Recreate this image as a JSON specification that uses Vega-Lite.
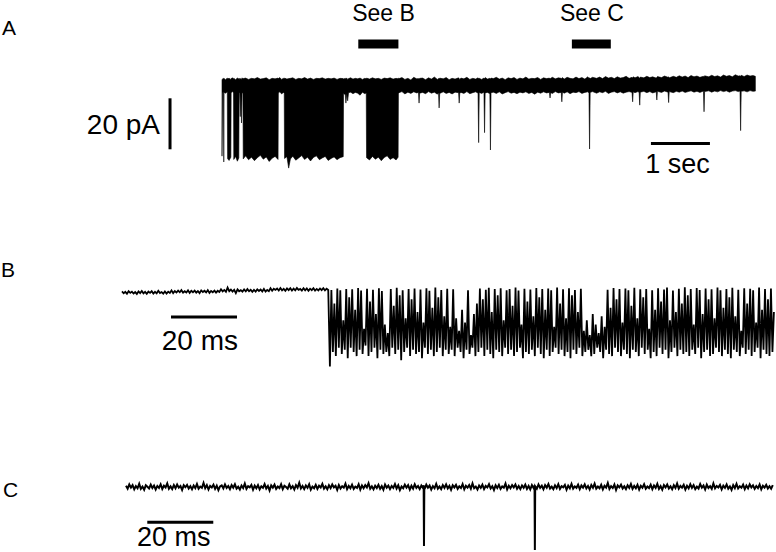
{
"$schema":"https://vega.github.io/schema/vega-lite/v6.json",
"padding":0,
"spacing":0,
"background":"white",
"config":{"view":{"stroke":null},"concat":{"spacing":0},"text":{"font":"Liberation Sans","color":"black"}},
"datasets":{
"traceA":[
{"t":0,"lo":-27.5,"hi":2.4},{"t":0.01,"lo":-2.6,"hi":2.8},{"t":0.025,"lo":-2.4,"hi":3.0},{"t":0.03,"lo":-29.8,"hi":2.7},{"t":0.035,"lo":-2.5,"hi":2.9},{"t":0.06,"lo":-2.8,"hi":2.5},{"t":0.09,"lo":-2.3,"hi":3.1},{"t":0.095,"lo":-28.5,"hi":2.8},{"t":0.12,"lo":-29.2,"hi":3.0},{"t":0.15,"lo":-27.9,"hi":2.6},{"t":0.155,"lo":-2.6,"hi":2.9},{"t":0.18,"lo":-2.2,"hi":3.2},{"t":0.195,"lo":-2.7,"hi":2.7},{"t":0.2,"lo":-28.8,"hi":3.0},{"t":0.23,"lo":-27.6,"hi":2.5},{"t":0.26,"lo":-29.5,"hi":3.1},{"t":0.285,"lo":-28.2,"hi":2.8},{"t":0.29,"lo":-2.9,"hi":2.6},{"t":0.3,"lo":-2.4,"hi":3.0},{"t":0.31,"lo":-12.0,"hi":2.7},{"t":0.32,"lo":-3.0,"hi":2.9},{"t":0.33,"lo":-14.5,"hi":2.6},{"t":0.34,"lo":-2.6,"hi":3.2},{"t":0.355,"lo":-2.8,"hi":2.7},
{"t":0.36,"lo":-28.6,"hi":2.9},{"t":0.4,"lo":-27.4,"hi":3.1},{"t":0.45,"lo":-28.9,"hi":2.6},{"t":0.5,"lo":-27.9,"hi":3.0},{"t":0.55,"lo":-29.3,"hi":2.8},{"t":0.6,"lo":-28.1,"hi":3.3},{"t":0.65,"lo":-27.2,"hi":2.7},{"t":0.7,"lo":-28.7,"hi":2.9},{"t":0.75,"lo":-27.8,"hi":3.2},{"t":0.8,"lo":-29.6,"hi":2.5},{"t":0.85,"lo":-28.3,"hi":3.0},{"t":0.9,"lo":-27.6,"hi":2.8},{"t":0.95,"lo":-28.8,"hi":3.1},
{"t":0.955,"lo":-2.7,"hi":2.9},{"t":0.98,"lo":-2.3,"hi":3.3},{"t":1.01,"lo":-3.1,"hi":2.6},{"t":1.04,"lo":-2.5,"hi":3.0},{"t":1.055,"lo":-2.8,"hi":2.8},
{"t":1.06,"lo":-28.4,"hi":3.1},{"t":1.1,"lo":-27.7,"hi":2.7},{"t":1.13,"lo":-32.2,"hi":2.9},{"t":1.16,"lo":-28.6,"hi":3.0},{"t":1.2,"lo":-27.5,"hi":3.2},{"t":1.25,"lo":-29.1,"hi":2.6},{"t":1.3,"lo":-28.2,"hi":3.0},{"t":1.35,"lo":-27.3,"hi":2.8},{"t":1.4,"lo":-28.8,"hi":3.3},{"t":1.45,"lo":-27.9,"hi":2.7},{"t":1.5,"lo":-29.4,"hi":3.1},{"t":1.55,"lo":-28.0,"hi":2.6},{"t":1.6,"lo":-27.4,"hi":3.0},{"t":1.65,"lo":-28.9,"hi":2.9},{"t":1.7,"lo":-28.2,"hi":3.2},{"t":1.75,"lo":-27.6,"hi":2.7},{"t":1.8,"lo":-29.2,"hi":3.0},{"t":1.85,"lo":-28.4,"hi":2.8},{"t":1.9,"lo":-27.8,"hi":3.1},{"t":1.95,"lo":-28.9,"hi":2.6},{"t":2.0,"lo":-28.1,"hi":3.0},{"t":2.055,"lo":-27.7,"hi":2.9},
{"t":2.06,"lo":-2.9,"hi":2.7},{"t":2.09,"lo":-3.4,"hi":3.0},{"t":2.1,"lo":-6.7,"hi":2.8},{"t":2.115,"lo":-3.0,"hi":3.1},{"t":2.13,"lo":-5.8,"hi":2.6},{"t":2.145,"lo":-2.6,"hi":2.9},{"t":2.18,"lo":-2.4,"hi":3.2},{"t":2.22,"lo":-3.0,"hi":2.7},{"t":2.26,"lo":-2.5,"hi":3.0},{"t":2.3,"lo":-2.8,"hi":2.8},{"t":2.34,"lo":-3.6,"hi":3.1},{"t":2.38,"lo":-2.4,"hi":2.6},{"t":2.42,"lo":-3.0,"hi":3.0},{"t":2.445,"lo":-2.7,"hi":2.8},
{"t":2.45,"lo":-28.1,"hi":3.1},{"t":2.5,"lo":-29.0,"hi":2.7},{"t":2.55,"lo":-27.6,"hi":3.2},{"t":2.6,"lo":-28.7,"hi":2.8},{"t":2.65,"lo":-27.9,"hi":3.0},{"t":2.7,"lo":-29.3,"hi":2.6},{"t":2.75,"lo":-28.0,"hi":3.1},{"t":2.8,"lo":-27.4,"hi":2.9},{"t":2.85,"lo":-28.8,"hi":3.2},{"t":2.9,"lo":-28.1,"hi":2.7},{"t":2.95,"lo":-29.0,"hi":3.0},{"t":2.985,"lo":-27.9,"hi":2.8},
{"t":2.99,"lo":-3.0,"hi":3.1},{"t":3.0,"lo":-2.6,"hi":2.9},{"t":3.05,"lo":-2.2,"hi":3.3},{"t":3.1,"lo":-3.1,"hi":2.6},{"t":3.15,"lo":-2.4,"hi":3.0},{"t":3.2,"lo":-2.9,"hi":2.4},{"t":3.25,"lo":-2.3,"hi":3.4},{"t":3.3,"lo":-2.7,"hi":2.8},{"t":3.33,"lo":-2.5,"hi":2.9},{"t":3.34,"lo":-6.7,"hi":2.7},{"t":3.35,"lo":-2.8,"hi":3.0},{"t":3.4,"lo":-2.5,"hi":3.1},{"t":3.45,"lo":-3.0,"hi":2.5},{"t":3.5,"lo":-2.2,"hi":3.2},{"t":3.55,"lo":-2.8,"hi":2.7},{"t":3.6,"lo":-2.4,"hi":3.5},{"t":3.65,"lo":-3.2,"hi":2.6},{"t":3.67,"lo":-2.6,"hi":2.9},{"t":3.68,"lo":-8.6,"hi":2.8},{"t":3.69,"lo":-2.9,"hi":3.1},{"t":3.75,"lo":-2.3,"hi":2.8},{"t":3.8,"lo":-2.9,"hi":3.3},{"t":3.85,"lo":-2.5,"hi":2.5},{"t":3.9,"lo":-3.1,"hi":3.0},{"t":3.95,"lo":-2.4,"hi":2.7},{"t":4.01,"lo":-2.6,"hi":3.2},{"t":4.02,"lo":-6.7,"hi":2.9},{"t":4.03,"lo":-2.8,"hi":2.6},{"t":4.05,"lo":-2.5,"hi":3.1},{"t":4.1,"lo":-2.9,"hi":2.8},{"t":4.15,"lo":-2.2,"hi":3.4},{"t":4.2,"lo":-3.0,"hi":2.6},{"t":4.25,"lo":-2.6,"hi":3.0},{"t":4.3,"lo":-2.3,"hi":2.7},{"t":4.34,"lo":-2.8,"hi":3.2},{"t":4.35,"lo":-22.2,"hi":2.9},{"t":4.36,"lo":-2.5,"hi":3.0},{"t":4.4,"lo":-2.9,"hi":2.6},{"t":4.44,"lo":-2.4,"hi":3.1},{"t":4.45,"lo":-18.3,"hi":2.8},{"t":4.46,"lo":-2.7,"hi":3.3},{"t":4.5,"lo":-2.5,"hi":2.7},{"t":4.54,"lo":-3.0,"hi":3.0},{"t":4.55,"lo":-25.1,"hi":2.8},{"t":4.56,"lo":-2.6,"hi":3.1},{"t":4.6,"lo":-2.4,"hi":2.9},{"t":4.65,"lo":-2.9,"hi":3.4},{"t":4.7,"lo":-2.3,"hi":2.7},{"t":4.75,"lo":-3.1,"hi":3.1},{"t":4.8,"lo":-2.6,"hi":2.5},{"t":4.85,"lo":-2.2,"hi":3.2},{"t":4.9,"lo":-2.8,"hi":2.9},{"t":4.95,"lo":-2.5,"hi":3.3},{"t":5.0,"lo":-3.0,"hi":2.6},{"t":5.05,"lo":-2.4,"hi":3.1},{"t":5.1,"lo":-2.7,"hi":2.8},{"t":5.15,"lo":-2.3,"hi":3.5},{"t":5.2,"lo":-2.9,"hi":2.7},{"t":5.25,"lo":-2.5,"hi":3.0},{"t":5.3,"lo":-3.2,"hi":2.9},{"t":5.35,"lo":-2.4,"hi":3.3},{"t":5.4,"lo":-2.8,"hi":2.6},{"t":5.45,"lo":-2.3,"hi":3.2},{"t":5.5,"lo":-2.7,"hi":2.9},{"t":5.55,"lo":-2.5,"hi":3.1},{"t":5.56,"lo":-4.7,"hi":2.8},{"t":5.57,"lo":-2.6,"hi":3.0},{"t":5.6,"lo":-2.9,"hi":3.4},{"t":5.65,"lo":-2.2,"hi":2.8},{"t":5.7,"lo":-2.7,"hi":3.2},{"t":5.75,"lo":-2.5,"hi":3.0},{"t":5.76,"lo":-6.2,"hi":2.9},{"t":5.77,"lo":-2.4,"hi":3.3},{"t":5.8,"lo":-2.8,"hi":2.7},{"t":5.85,"lo":-2.3,"hi":3.4},{"t":5.9,"lo":-3.0,"hi":3.0},{"t":5.95,"lo":-2.4,"hi":2.8},{"t":6.0,"lo":-2.6,"hi":3.5},{"t":6.05,"lo":-2.2,"hi":2.9},{"t":6.1,"lo":-2.9,"hi":3.3},{"t":6.15,"lo":-2.5,"hi":2.7},{"t":6.2,"lo":-2.3,"hi":3.6},{"t":6.22,"lo":-2.7,"hi":3.0},{"t":6.23,"lo":-24.7,"hi":3.2},{"t":6.24,"lo":-2.5,"hi":2.9},{"t":6.28,"lo":-2.2,"hi":3.4},{"t":6.35,"lo":-2.8,"hi":3.0},{"t":6.4,"lo":-2.3,"hi":3.5},{"t":6.45,"lo":-2.6,"hi":2.9},{"t":6.5,"lo":-2.1,"hi":3.7},{"t":6.55,"lo":-2.9,"hi":3.1},{"t":6.6,"lo":-2.4,"hi":3.4},{"t":6.65,"lo":-2.2,"hi":2.9},{"t":6.7,"lo":-2.7,"hi":3.6},{"t":6.75,"lo":-2.3,"hi":3.1},{"t":6.8,"lo":-2.8,"hi":3.3},{"t":6.85,"lo":-2.4,"hi":3.8},{"t":6.9,"lo":-2.2,"hi":3.0},{"t":6.95,"lo":-2.5,"hi":3.4},{"t":6.96,"lo":-6.2,"hi":3.1},{"t":6.97,"lo":-2.3,"hi":3.6},{"t":7.0,"lo":-2.6,"hi":3.2},{"t":7.05,"lo":-2.2,"hi":3.7},{"t":7.07,"lo":-2.5,"hi":3.3},{"t":7.08,"lo":-7.5,"hi":3.0},{"t":7.09,"lo":-2.4,"hi":3.5},{"t":7.15,"lo":-2.1,"hi":3.2},{"t":7.2,"lo":-2.6,"hi":3.8},{"t":7.25,"lo":-2.2,"hi":3.3},{"t":7.3,"lo":-2.7,"hi":3.6},{"t":7.36,"lo":-2.3,"hi":3.1},{"t":7.37,"lo":-5.5,"hi":3.4},{"t":7.38,"lo":-2.1,"hi":3.7},{"t":7.45,"lo":-2.5,"hi":3.3},{"t":7.5,"lo":-2.0,"hi":3.9},{"t":7.56,"lo":-2.4,"hi":3.4},{"t":7.57,"lo":-6.5,"hi":3.6},{"t":7.58,"lo":-2.2,"hi":3.2},{"t":7.65,"lo":-2.6,"hi":3.8},{"t":7.7,"lo":-2.1,"hi":3.4},{"t":7.75,"lo":-2.4,"hi":4.0},{"t":7.8,"lo":-2.0,"hi":3.5},{"t":7.85,"lo":-2.5,"hi":3.9},{"t":7.9,"lo":-2.2,"hi":3.3},{"t":7.95,"lo":-1.9,"hi":4.1},{"t":8.0,"lo":-2.4,"hi":3.6},{"t":8.05,"lo":-2.1,"hi":3.9},{"t":8.1,"lo":-2.5,"hi":3.4},{"t":8.16,"lo":-2.0,"hi":3.8},{"t":8.17,"lo":-10.1,"hi":3.5},{"t":8.18,"lo":-2.2,"hi":4.0},{"t":8.25,"lo":-1.9,"hi":3.6},{"t":8.3,"lo":-2.4,"hi":4.2},{"t":8.35,"lo":-2.0,"hi":3.7},{"t":8.4,"lo":-2.3,"hi":4.0},{"t":8.45,"lo":-1.8,"hi":3.5},{"t":8.5,"lo":-2.2,"hi":4.3},{"t":8.55,"lo":-1.9,"hi":3.8},{"t":8.6,"lo":-2.4,"hi":4.1},{"t":8.65,"lo":-2.0,"hi":3.6},{"t":8.7,"lo":-1.8,"hi":4.4},{"t":8.75,"lo":-2.2,"hi":3.9},{"t":8.78,"lo":-2.0,"hi":4.0},{"t":8.79,"lo":-17.5,"hi":3.8},{"t":8.8,"lo":-2.1,"hi":4.2},{"t":8.85,"lo":-1.9,"hi":3.7},{"t":8.9,"lo":-2.3,"hi":4.3},{"t":8.95,"lo":-1.8,"hi":3.9},{"t":9.0,"lo":-2.1,"hi":4.1},{"t":9.04,"lo":-2.0,"hi":3.8}
],
"traceB":[
{"t":0,"i":-0.2},{"t":0.5,"i":-1.1},{"t":1,"i":-0.4},{"t":1.5,"i":-1.3},{"t":2,"i":-0.1},{"t":2.5,"i":-0.9},{"t":3,"i":-0.3},{"t":3.5,"i":-1.2},{"t":4,"i":-0.5},{"t":4.5,"i":-1.4},
{"t":5,"i":-0.2},{"t":5.5,"i":-1.0},{"t":6,"i":0.0},{"t":6.5,"i":-1.1},{"t":7,"i":-0.4},{"t":7.5,"i":-1.3},{"t":8,"i":-0.3},{"t":8.5,"i":-0.9},{"t":9,"i":-0.1},{"t":9.5,"i":-1.2},
{"t":10,"i":-0.4},{"t":10.5,"i":-1.1},{"t":11,"i":0.1},{"t":11.5,"i":-1.0},{"t":12,"i":-0.5},{"t":12.5,"i":-1.3},{"t":13,"i":-0.2},{"t":13.5,"i":-1.2},{"t":14,"i":-0.3},{"t":14.5,"i":-0.9},
{"t":15,"i":0.3},{"t":15.5,"i":-1.0},{"t":16,"i":0.0},{"t":16.5,"i":-0.7},{"t":17,"i":0.2},{"t":17.5,"i":-0.6},{"t":18,"i":0.4},{"t":18.5,"i":-0.8},{"t":19,"i":-0.1},{"t":19.5,"i":-0.7},
{"t":20,"i":0.3},{"t":20.5,"i":-0.9},{"t":21,"i":0.1},{"t":21.5,"i":-0.6},{"t":22,"i":0.2},{"t":22.5,"i":-0.8},{"t":23,"i":0.0},{"t":23.5,"i":-1.0},{"t":24,"i":0.3},{"t":24.5,"i":-0.5},
{"t":25,"i":0.1},{"t":25.5,"i":-0.7},{"t":26,"i":0.4},{"t":26.5,"i":-0.9},{"t":27,"i":0.0},{"t":27.5,"i":-0.6},{"t":28,"i":0.2},{"t":28.5,"i":-0.8},{"t":29,"i":0.1},{"t":29.5,"i":-0.5},
{"t":30,"i":0.8},{"t":30.5,"i":-0.2},{"t":31,"i":0.5},{"t":31.5,"i":-0.4},{"t":32,"i":1.6},{"t":32.5,"i":-0.1},{"t":33,"i":0.7},{"t":33.5,"i":-0.3},{"t":34,"i":0.6},{"t":34.5,"i":-1.0},
{"t":35,"i":0.8},{"t":35.5,"i":-0.1},{"t":36,"i":0.4},{"t":36.5,"i":-0.3},{"t":37,"i":0.7},{"t":37.5,"i":-0.2},{"t":38,"i":0.9},{"t":38.5,"i":-0.1},{"t":39,"i":0.6},{"t":39.5,"i":-0.4},
{"t":40,"i":0.5},{"t":40.5,"i":-0.3},{"t":41,"i":0.8},{"t":41.5,"i":0.0},{"t":42,"i":0.7},{"t":42.5,"i":-0.2},{"t":43,"i":1.0},{"t":43.5,"i":-0.3},{"t":44,"i":0.5},{"t":44.5,"i":-0.1},
{"t":45,"i":1.3},{"t":45.5,"i":0.1},{"t":46,"i":1.1},{"t":46.5,"i":0.5},{"t":47,"i":1.2},{"t":47.5,"i":0.2},{"t":48,"i":1.4},{"t":48.5,"i":0.3},{"t":49,"i":1.0},{"t":49.5,"i":0.1},
{"t":50,"i":1.2},{"t":50.5,"i":0.4},{"t":51,"i":1.3},{"t":51.5,"i":0.2},{"t":52,"i":1.1},{"t":52.5,"i":0.3},{"t":53,"i":1.4},{"t":53.5,"i":0.5},{"t":54,"i":1.0},{"t":54.5,"i":0.2},
{"t":55,"i":1.3},{"t":55.5,"i":0.3},{"t":56,"i":1.2},{"t":56.5,"i":0.1},{"t":57,"i":1.1},{"t":57.5,"i":0.4},{"t":58,"i":1.3},{"t":58.5,"i":0.2},{"t":59,"i":1.0},{"t":59.5,"i":0.3},
{"t":60,"i":1.2},{"t":60.5,"i":0.4},{"t":61,"i":1.3},{"t":61.5,"i":0.3},{"t":62,"i":1.1},{"t":62.5,"i":0.5},
{"t":63,"i":-36},{"t":63.45,"i":0.5},{"t":63.9,"i":-29},{"t":64.35,"i":-6},{"t":64.8,"i":-31},{"t":65.25,"i":1.2},{"t":65.7,"i":-27},{"t":66.15,"i":0.3},{"t":66.6,"i":-30},{"t":67.05,"i":-14},{"t":67.5,"i":-28},{"t":67.95,"i":1.0},{"t":68.4,"i":-32},{"t":68.85,"i":-3},{"t":69.3,"i":-27},{"t":69.75,"i":0.8},{"t":70.2,"i":-29},{"t":70.65,"i":-9},{"t":71.1,"i":-31},{"t":71.55,"i":1.4},
{"t":72,"i":-28},{"t":72.45,"i":0.2},{"t":72.9,"i":-30},{"t":73.35,"i":-18},{"t":73.8,"i":-26},{"t":74.25,"i":1.1},{"t":74.7,"i":-31},{"t":75.15,"i":-5},{"t":75.6,"i":-29},{"t":76.05,"i":0.6},{"t":76.5,"i":-27},{"t":76.95,"i":-11},{"t":77.4,"i":-32},{"t":77.85,"i":1.3},{"t":78.3,"i":-28},{"t":78.75,"i":0.0},{"t":79.2,"i":-30},{"t":79.65,"i":-16},{"t":80.1,"i":-29},{"t":80.55,"i":-20},
{"t":81,"i":-31},{"t":81.45,"i":0.9},{"t":81.9,"i":-27},{"t":82.35,"i":-7},{"t":82.8,"i":-30},{"t":83.25,"i":1.5},{"t":83.7,"i":-28},{"t":84.15,"i":-2},{"t":84.6,"i":-33},{"t":85.05,"i":0.4},{"t":85.5,"i":-29},{"t":85.95,"i":-13},{"t":86.4,"i":-27},{"t":86.85,"i":1.0},{"t":87.3,"i":-31},{"t":87.75,"i":-4},{"t":88.2,"i":-28},{"t":88.65,"i":1.2},{"t":89.1,"i":-30},{"t":89.55,"i":-10},
{"t":90,"i":-29},{"t":90.45,"i":0.7},{"t":90.9,"i":-32},{"t":91.35,"i":-15},{"t":91.8,"i":-27},{"t":92.25,"i":1.3},{"t":92.7,"i":-30},{"t":93.15,"i":0.1},{"t":93.6,"i":-28},{"t":94.05,"i":-8},{"t":94.5,"i":-31},{"t":94.95,"i":1.6},{"t":95.4,"i":-29},{"t":95.85,"i":-3},{"t":96.3,"i":-27},{"t":96.75,"i":0.5},{"t":97.2,"i":-31},{"t":97.65,"i":-12},{"t":98.1,"i":-28},{"t":98.55,"i":1.1},
{"t":99,"i":-30},{"t":99.45,"i":-17},{"t":99.9,"i":-28},{"t":100.35,"i":0.8},{"t":100.8,"i":-31},{"t":101.25,"i":-13},{"t":101.7,"i":-27},{"t":102.15,"i":-19},{"t":102.6,"i":-29},{"t":103.05,"i":-9},{"t":103.5,"i":-32},{"t":103.95,"i":-15},{"t":104.4,"i":-28},{"t":104.85,"i":0.4},{"t":105.3,"i":-30},{"t":105.75,"i":-21},{"t":106.2,"i":-27},{"t":106.65,"i":-11},{"t":107.1,"i":-31},{"t":107.55,"i":-6},
{"t":108,"i":-29},{"t":108.45,"i":1.2},{"t":108.9,"i":-27},{"t":109.35,"i":-4},{"t":109.8,"i":-31},{"t":110.25,"i":0.6},{"t":110.7,"i":-28},{"t":111.15,"i":1.5},{"t":111.6,"i":-30},{"t":112.05,"i":-10},{"t":112.5,"i":-32},{"t":112.95,"i":0.9},{"t":113.4,"i":-28},{"t":113.85,"i":-2},{"t":114.3,"i":-29},{"t":114.75,"i":1.3},{"t":115.2,"i":-31},{"t":115.65,"i":-14},{"t":116.1,"i":-27},{"t":116.55,"i":0.3},
{"t":117,"i":-30},{"t":117.45,"i":1.0},{"t":117.9,"i":-28},{"t":118.35,"i":-7},{"t":118.8,"i":-31},{"t":119.25,"i":1.7},{"t":119.7,"i":-29},{"t":120.15,"i":0.2},{"t":120.6,"i":-27},{"t":121.05,"i":-16},{"t":121.5,"i":-32},{"t":121.95,"i":1.1},{"t":122.4,"i":-29},{"t":122.85,"i":-5},{"t":123.3,"i":-30},{"t":123.75,"i":0.7},{"t":124.2,"i":-28},{"t":124.65,"i":-12},{"t":125.1,"i":-31},{"t":125.55,"i":1.4},
{"t":126,"i":-27},{"t":126.45,"i":-3},{"t":126.9,"i":-30},{"t":127.35,"i":0.9},{"t":127.8,"i":-32},{"t":128.25,"i":-9},{"t":128.7,"i":-28},{"t":129.15,"i":1.2},{"t":129.6,"i":-31},{"t":130.05,"i":0.4},{"t":130.5,"i":-29},{"t":130.95,"i":-17},{"t":131.4,"i":-27},{"t":131.85,"i":1.6},{"t":132.3,"i":-30},{"t":132.75,"i":-6},{"t":133.2,"i":-28},{"t":133.65,"i":0.8},{"t":134.1,"i":-31},{"t":134.55,"i":-13},
{"t":135,"i":-29},{"t":135.45,"i":1.3},{"t":135.9,"i":-32},{"t":136.35,"i":-2},{"t":136.8,"i":-28},{"t":137.25,"i":0.5},{"t":137.7,"i":-30},{"t":138.15,"i":-10},{"t":138.6,"i":-27},{"t":139.05,"i":1.1},{"t":139.5,"i":-31},{"t":139.95,"i":-19},{"t":140.4,"i":-29},{"t":140.85,"i":-14},{"t":141.3,"i":-28},{"t":141.75,"i":-21},{"t":142.2,"i":-31},{"t":142.65,"i":-11},{"t":143.1,"i":-30},{"t":143.55,"i":-16},
{"t":144,"i":-27},{"t":144.45,"i":-20},{"t":144.9,"i":-29},{"t":145.35,"i":-12},{"t":145.8,"i":-32},{"t":146.25,"i":-17},{"t":146.7,"i":-28},{"t":147.15,"i":0.6},{"t":147.6,"i":-30},{"t":148.05,"i":-8},{"t":148.5,"i":-31},{"t":148.95,"i":1.4},{"t":149.4,"i":-27},{"t":149.85,"i":-4},{"t":150.3,"i":-29},{"t":150.75,"i":0.9},{"t":151.2,"i":-31},{"t":151.65,"i":-15},{"t":152.1,"i":-28},{"t":152.55,"i":1.2},
{"t":153,"i":-30},{"t":153.45,"i":0.3},{"t":153.9,"i":-32},{"t":154.35,"i":-7},{"t":154.8,"i":-28},{"t":155.25,"i":1.5},{"t":155.7,"i":-29},{"t":156.15,"i":-13},{"t":156.6,"i":-31},{"t":157.05,"i":0.8},{"t":157.5,"i":-27},{"t":157.95,"i":-3},{"t":158.4,"i":-30},{"t":158.85,"i":1.0},{"t":159.3,"i":-28},{"t":159.75,"i":-18},{"t":160.2,"i":-32},{"t":160.65,"i":0.4},{"t":161.1,"i":-29},{"t":161.55,"i":-9},
{"t":162,"i":-31},{"t":162.45,"i":1.3},{"t":162.9,"i":-27},{"t":163.35,"i":-5},{"t":163.8,"i":-30},{"t":164.25,"i":0.7},{"t":164.7,"i":-28},{"t":165.15,"i":1.6},{"t":165.6,"i":-32},{"t":166.05,"i":-14},{"t":166.5,"i":-29},{"t":166.95,"i":0.2},{"t":167.4,"i":-27},{"t":167.85,"i":-10},{"t":168.3,"i":-31},{"t":168.75,"i":1.1},{"t":169.2,"i":-28},{"t":169.65,"i":-6},{"t":170.1,"i":-30},{"t":170.55,"i":1.8},
{"t":171,"i":-29},{"t":171.45,"i":-2},{"t":171.9,"i":-31},{"t":172.35,"i":0.9},{"t":172.8,"i":-28},{"t":173.25,"i":-16},{"t":173.7,"i":-30},{"t":174.15,"i":1.4},{"t":174.6,"i":-27},{"t":175.05,"i":0.5},{"t":175.5,"i":-32},{"t":175.95,"i":-11},{"t":176.4,"i":-29},{"t":176.85,"i":1.2},{"t":177.3,"i":-28},{"t":177.75,"i":-4},{"t":178.2,"i":-31},{"t":178.65,"i":0.8},{"t":179.1,"i":-30},{"t":179.55,"i":-13},
{"t":180,"i":-27},{"t":180.45,"i":1.7},{"t":180.9,"i":-29},{"t":181.35,"i":0.3},{"t":181.8,"i":-31},{"t":182.25,"i":-8},{"t":182.7,"i":-28},{"t":183.15,"i":1.0},{"t":183.6,"i":-30},{"t":184.05,"i":-3},{"t":184.5,"i":-32},{"t":184.95,"i":1.5},{"t":185.4,"i":-28},{"t":185.85,"i":-12},{"t":186.3,"i":-29},{"t":186.75,"i":0.6},{"t":187.2,"i":-31},{"t":187.65,"i":-19},{"t":188.1,"i":-27},{"t":188.55,"i":1.3},
{"t":189,"i":-30},{"t":189.45,"i":-6},{"t":189.9,"i":-28},{"t":190.35,"i":1.1},{"t":190.8,"i":-31},{"t":191.25,"i":0.4},{"t":191.7,"i":-29},{"t":192.15,"i":-15},{"t":192.6,"i":-27},{"t":193.05,"i":1.6},{"t":193.5,"i":-32},{"t":193.95,"i":-9},{"t":194.4,"i":-28},{"t":194.85,"i":0.9},{"t":195.3,"i":-30},{"t":195.75,"i":-4},{"t":196.2,"i":-31},{"t":196.65,"i":1.2},{"t":197.1,"i":-29},{"t":197.55,"i":-10}
],
"traceC":[
{"t":0,"i":0.6},{"t":0.5,"i":-0.8},{"t":1,"i":1.2},{"t":1.5,"i":-0.3},{"t":2,"i":0.9},{"t":2.5,"i":-1.1},{"t":3,"i":0.4},{"t":3.5,"i":-0.6},{"t":4,"i":1.5},{"t":4.5,"i":-0.9},{"t":5,"i":0.2},{"t":5.5,"i":-1.3},{"t":6,"i":0.8},{"t":6.5,"i":0.1},{"t":7,"i":-0.7},{"t":7.5,"i":1.1},{"t":8,"i":-0.5},{"t":8.5,"i":0.7},{"t":9,"i":-1.2},{"t":9.5,"i":0.5},
{"t":10,"i":-0.4},{"t":10.5,"i":1.3},{"t":11,"i":-0.9},{"t":11.5,"i":0.6},{"t":12,"i":-0.2},{"t":12.5,"i":1.7},{"t":13,"i":-0.8},{"t":13.5,"i":0.3},{"t":14,"i":-1.0},{"t":14.5,"i":0.9},{"t":15,"i":-0.6},{"t":15.5,"i":1.2},{"t":16,"i":-0.3},{"t":16.5,"i":0.5},{"t":17,"i":-1.4},{"t":17.5,"i":0.8},{"t":18,"i":-0.1},{"t":18.5,"i":1.0},{"t":19,"i":-0.7},{"t":19.5,"i":0.4},
{"t":20,"i":-1.1},{"t":20.5,"i":0.7},{"t":21,"i":-0.5},{"t":21.5,"i":1.4},{"t":22,"i":-0.8},{"t":22.5,"i":0.2},{"t":23,"i":-0.4},{"t":23.5,"i":1.9},{"t":24,"i":-0.6},{"t":24.5,"i":0.9},{"t":25,"i":-1.2},{"t":25.5,"i":0.5},{"t":26,"i":-0.2},{"t":26.5,"i":1.1},{"t":27,"i":-0.9},{"t":27.5,"i":0.6},{"t":28,"i":-1.5},{"t":28.5,"i":0.3},{"t":29,"i":0.8},{"t":29.5,"i":-0.7},
{"t":30,"i":1.2},{"t":30.5,"i":-0.4},{"t":31,"i":0.5},{"t":31.5,"i":-1.0},{"t":32,"i":0.9},{"t":32.5,"i":-0.3},{"t":33,"i":1.3},{"t":33.5,"i":-0.8},{"t":34,"i":0.1},{"t":34.5,"i":-1.2},{"t":35,"i":0.7},{"t":35.5,"i":-0.5},{"t":36,"i":1.6},{"t":36.5,"i":-0.9},{"t":37,"i":0.4},{"t":37.5,"i":-0.2},{"t":38,"i":1.0},{"t":38.5,"i":-1.3},{"t":39,"i":0.6},{"t":39.5,"i":-0.6},
{"t":40,"i":0.9},{"t":40.5,"i":-1.1},{"t":41,"i":0.3},{"t":41.5,"i":-0.4},{"t":42,"i":1.4},{"t":42.5,"i":-0.7},{"t":43,"i":0.5},{"t":43.5,"i":-1.6},{"t":44,"i":0.8},{"t":44.5,"i":-0.3},{"t":45,"i":1.1},{"t":45.5,"i":-0.9},{"t":46,"i":0.2},{"t":46.5,"i":-0.5},{"t":47,"i":1.3},{"t":47.5,"i":-1.0},{"t":48,"i":0.6},{"t":48.5,"i":0.0},{"t":49,"i":-0.8},{"t":49.5,"i":1.2},
{"t":50,"i":-0.6},{"t":50.5,"i":0.4},{"t":51,"i":-1.2},{"t":51.5,"i":0.9},{"t":52,"i":-0.3},{"t":52.5,"i":2.0},{"t":53,"i":-0.7},{"t":53.5,"i":0.5},{"t":54,"i":-1.0},{"t":54.5,"i":0.7},{"t":55,"i":-0.4},{"t":55.5,"i":1.3},{"t":56,"i":-1.3},{"t":56.5,"i":0.2},{"t":57,"i":-0.6},{"t":57.5,"i":1.0},{"t":58,"i":-0.9},{"t":58.5,"i":0.6},{"t":59,"i":-0.2},{"t":59.5,"i":1.5},
{"t":60,"i":-0.8},{"t":60.5,"i":0.3},{"t":61,"i":-1.1},{"t":61.5,"i":0.8},{"t":62,"i":-0.5},{"t":62.5,"i":1.2},{"t":63,"i":-0.2},{"t":63.5,"i":0.6},{"t":64,"i":-1.4},{"t":64.5,"i":0.9},{"t":65,"i":-0.7},{"t":65.5,"i":0.4},{"t":66,"i":-0.3},{"t":66.5,"i":1.6},{"t":67,"i":-1.0},{"t":67.5,"i":0.5},{"t":68,"i":-0.6},{"t":68.5,"i":1.1},{"t":69,"i":-0.9},{"t":69.5,"i":0.2},
{"t":70,"i":-0.4},{"t":70.5,"i":1.3},{"t":71,"i":-1.2},{"t":71.5,"i":0.7},{"t":72,"i":-0.6},{"t":72.5,"i":0.9},{"t":73,"i":-0.2},{"t":73.5,"i":1.8},{"t":74,"i":-0.8},{"t":74.5,"i":0.3},{"t":75,"i":-1.1},{"t":75.5,"i":0.6},{"t":76,"i":-0.5},{"t":76.5,"i":1.0},{"t":77,"i":-0.9},{"t":77.5,"i":0.4},{"t":78,"i":-1.3},{"t":78.5,"i":1.2},{"t":79,"i":-0.3},{"t":79.5,"i":0.7},
{"t":80,"i":-1.0},{"t":80.5,"i":0.5},{"t":81,"i":-0.4},{"t":81.5,"i":1.4},{"t":82,"i":-0.7},{"t":82.5,"i":0.8},{"t":83,"i":-1.5},{"t":83.5,"i":0.2},{"t":84,"i":-0.6},{"t":84.5,"i":1.1},{"t":85,"i":-0.3},{"t":85.5,"i":0.9},{"t":86,"i":-1.2},{"t":86.5,"i":0.6},{"t":87,"i":-0.8},{"t":87.5,"i":1.3},{"t":88,"i":-0.4},{"t":88.5,"i":0.5},{"t":89,"i":-1.0},{"t":89.5,"i":0.7},
{"t":90,"i":-0.5},{"t":90.2,"i":0.8},{"t":90.3,"i":-28.1},{"t":90.4,"i":0.4},{"t":90.5,"i":-0.9},{"t":91,"i":1.1},{"t":91.5,"i":-0.3},{"t":92,"i":0.7},{"t":92.5,"i":-1.2},{"t":93,"i":0.4},{"t":93.5,"i":-0.6},{"t":94,"i":1.5},{"t":94.5,"i":-0.8},{"t":95,"i":0.2},{"t":95.5,"i":-1.0},{"t":96,"i":0.9},{"t":96.5,"i":-0.4},{"t":97,"i":1.2},{"t":97.5,"i":-0.7},{"t":98,"i":0.5},{"t":98.5,"i":-1.3},{"t":99,"i":0.8},{"t":99.5,"i":-0.2},
{"t":100,"i":1.0},{"t":100.5,"i":-0.9},{"t":101,"i":0.3},{"t":101.5,"i":-0.5},{"t":102,"i":1.4},{"t":102.5,"i":-1.1},{"t":103,"i":0.6},{"t":103.5,"i":-0.3},{"t":104,"i":0.9},{"t":104.5,"i":-0.8},{"t":105,"i":1.7},{"t":105.5,"i":-0.6},{"t":106,"i":0.2},{"t":106.5,"i":-1.2},{"t":107,"i":0.7},{"t":107.5,"i":-0.4},{"t":108,"i":1.1},{"t":108.5,"i":-1.0},{"t":109,"i":0.5},{"t":109.5,"i":-0.2},
{"t":110,"i":1.3},{"t":110.5,"i":-0.7},{"t":111,"i":0.4},{"t":111.5,"i":-1.4},{"t":112,"i":0.8},{"t":112.5,"i":-0.5},{"t":113,"i":1.0},{"t":113.5,"i":-0.9},{"t":114,"i":0.3},{"t":114.5,"i":-0.3},{"t":115,"i":1.6},{"t":115.5,"i":-1.1},{"t":116,"i":0.6},{"t":116.5,"i":-0.6},{"t":117,"i":0.9},{"t":117.5,"i":-0.2},{"t":118,"i":1.2},{"t":118.5,"i":-0.8},{"t":119,"i":0.5},{"t":119.5,"i":-1.0},
{"t":120,"i":0.7},{"t":120.5,"i":-0.4},{"t":121,"i":1.1},{"t":121.5,"i":-0.9},{"t":122,"i":0.5},{"t":122.5,"i":-1.2},{"t":123,"i":0.9},{"t":123.5,"i":-0.5},{"t":123.8,"i":0.6},{"t":123.9,"i":-30.0},{"t":124,"i":0.3},{"t":124.5,"i":-0.8},
{"t":125,"i":1.2},{"t":125.5,"i":-0.4},{"t":126,"i":0.6},{"t":126.5,"i":-1.1},{"t":127,"i":0.9},{"t":127.5,"i":-0.3},{"t":128,"i":1.4},{"t":128.5,"i":-0.7},{"t":129,"i":0.2},{"t":129.5,"i":-1.0},
{"t":130,"i":0.8},{"t":130.5,"i":-0.5},{"t":131,"i":1.3},{"t":131.5,"i":-0.9},{"t":132,"i":0.4},{"t":132.5,"i":-0.2},{"t":133,"i":1.0},{"t":133.5,"i":-1.3},{"t":134,"i":0.6},{"t":134.5,"i":-0.6},{"t":135,"i":1.5},{"t":135.5,"i":-0.8},{"t":136,"i":0.3},{"t":136.5,"i":-0.4},{"t":137,"i":1.1},{"t":137.5,"i":-1.0},{"t":138,"i":0.7},{"t":138.5,"i":-0.3},{"t":139,"i":1.2},{"t":139.5,"i":-0.7},
{"t":140,"i":0.5},{"t":140.5,"i":-1.2},{"t":141,"i":0.9},{"t":141.5,"i":-0.4},{"t":142,"i":1.6},{"t":142.5,"i":-0.8},{"t":143,"i":0.2},{"t":143.5,"i":-0.6},{"t":144,"i":1.0},{"t":144.5,"i":-1.1},{"t":145,"i":0.6},{"t":145.5,"i":-0.3},{"t":146,"i":1.9},{"t":146.5,"i":-0.9},{"t":147,"i":0.4},{"t":147.5,"i":-0.5},{"t":148,"i":1.2},{"t":148.5,"i":-1.4},{"t":149,"i":0.7},{"t":149.5,"i":-0.2},
{"t":150,"i":1.1},{"t":150.5,"i":-0.7},{"t":151,"i":0.3},{"t":151.5,"i":-1.0},{"t":152,"i":0.8},{"t":152.5,"i":-0.4},{"t":153,"i":1.4},{"t":153.5,"i":-0.9},{"t":154,"i":0.5},{"t":154.5,"i":-0.6},{"t":155,"i":1.0},{"t":155.5,"i":-1.2},{"t":156,"i":0.6},{"t":156.5,"i":-0.3},{"t":157,"i":1.3},{"t":157.5,"i":-0.8},{"t":158,"i":0.2},{"t":158.5,"i":-0.5},{"t":159,"i":1.1},{"t":159.5,"i":-1.0},
{"t":160,"i":0.7},{"t":160.5,"i":-0.4},{"t":161,"i":1.5},{"t":161.5,"i":-0.9},{"t":162,"i":0.4},{"t":162.5,"i":-1.3},{"t":163,"i":0.9},{"t":163.5,"i":-0.2},{"t":164,"i":1.2},{"t":164.5,"i":-0.7},{"t":165,"i":0.3},{"t":165.5,"i":-1.1},{"t":166,"i":0.8},{"t":166.5,"i":-0.5},{"t":167,"i":1.6},{"t":167.5,"i":-0.8},{"t":168,"i":0.5},{"t":168.5,"i":-0.3},{"t":169,"i":1.0},{"t":169.5,"i":-1.2},
{"t":170,"i":0.6},{"t":170.5,"i":-0.6},{"t":171,"i":1.3},{"t":171.5,"i":-0.4},{"t":172,"i":0.9},{"t":172.5,"i":-1.0},{"t":173,"i":0.2},{"t":173.5,"i":-0.7},{"t":174,"i":1.4},{"t":174.5,"i":-0.3},{"t":175,"i":0.7},{"t":175.5,"i":-1.2},{"t":176,"i":1.1},{"t":176.5,"i":-0.5},{"t":177,"i":0.4},{"t":177.5,"i":-0.9},{"t":178,"i":1.7},{"t":178.5,"i":-0.6},{"t":179,"i":0.5},{"t":179.5,"i":-0.2},
{"t":180,"i":1.0},{"t":180.5,"i":-1.1},{"t":181,"i":0.6},{"t":181.5,"i":-0.4},{"t":182,"i":1.2},{"t":182.5,"i":-0.8},{"t":183,"i":0.3},{"t":183.5,"i":-1.4},{"t":184,"i":0.9},{"t":184.5,"i":-0.5},{"t":185,"i":1.5},{"t":185.5,"i":-0.7},{"t":186,"i":0.4},{"t":186.5,"i":-0.3},{"t":187,"i":1.1},{"t":187.5,"i":-1.0},{"t":188,"i":0.7},{"t":188.5,"i":-0.6},{"t":189,"i":1.3},{"t":189.5,"i":-0.2},
{"t":190,"i":0.8},{"t":190.5,"i":-0.9},{"t":191,"i":0.5},{"t":191.5,"i":-0.5},{"t":192,"i":1.2},{"t":192.5,"i":-1.1},{"t":193,"i":0.6},{"t":193.5,"i":-0.3},{"t":194,"i":1.0},{"t":194.5,"i":-0.7},{"t":195,"i":0.4},{"t":195.5,"i":-0.8},{"t":196,"i":0.9}
]
},
"vconcat":[
{
"width":776,"height":215,
"layer":[
{"data":{"name":"traceA"},"mark":{"type":"area","color":"black","opacity":1,"fillOpacity":1,"stroke":"black","strokeWidth":0.6},
 "encoding":{"x":{"field":"t","type":"quantitative","scale":{"domain":[-3.7627,9.3898],"nice":false,"zero":false},"axis":null},
  "y":{"field":"lo","type":"quantitative","scale":{"domain":[-50.59,33.73],"nice":false,"zero":false},"axis":null},"y2":{"field":"hi"}}},
{"data":{"values":[{"t0":2.31,"t1":2.99,"i":16.5},{"t0":5.93,"t1":6.59,"i":16.5}]},"mark":{"type":"rule","color":"black","strokeWidth":9,"strokeCap":"butt"},
 "encoding":{"x":{"field":"t0","type":"quantitative","scale":{"domain":[-3.7627,9.3898],"nice":false,"zero":false},"axis":null},"x2":{"field":"t1"},
  "y":{"field":"i","type":"quantitative","scale":{"domain":[-50.59,33.73],"nice":false,"zero":false},"axis":null}}},
{"data":{"values":[{"t":2.737,"i":25.5,"label":"See B"},{"t":6.27,"i":25.5,"label":"See C"}]},"mark":{"type":"text","fontSize":23,"align":"center","baseline":"alphabetic"},
 "encoding":{"x":{"field":"t","type":"quantitative","scale":{"domain":[-3.7627,9.3898],"nice":false,"zero":false},"axis":null},
  "y":{"field":"i","type":"quantitative","scale":{"domain":[-50.59,33.73],"nice":false,"zero":false},"axis":null},"text":{"field":"label"}}},
{"data":{"values":[{"t":-0.881,"i0":-4.82,"i1":-24.82}]},"mark":{"type":"rule","color":"black","strokeWidth":3,"strokeCap":"butt"},
 "encoding":{"x":{"field":"t","type":"quantitative","scale":{"domain":[-3.7627,9.3898],"nice":false,"zero":false},"axis":null},
  "y":{"field":"i0","type":"quantitative","scale":{"domain":[-50.59,33.73],"nice":false,"zero":false},"axis":null},"y2":{"field":"i1"}}},
{"data":{"values":[{"t":-1.051,"i":-18.8,"label":"20 pA"}]},"mark":{"type":"text","fontSize":28,"align":"right","baseline":"alphabetic"},
 "encoding":{"x":{"field":"t","type":"quantitative","scale":{"domain":[-3.7627,9.3898],"nice":false,"zero":false},"axis":null},
  "y":{"field":"i","type":"quantitative","scale":{"domain":[-50.59,33.73],"nice":false,"zero":false},"axis":null},"text":{"field":"label"}}},
{"data":{"values":[{"t0":7.27,"t1":8.27,"i":-22.5}]},"mark":{"type":"rule","color":"black","strokeWidth":3,"strokeCap":"butt"},
 "encoding":{"x":{"field":"t0","type":"quantitative","scale":{"domain":[-3.7627,9.3898],"nice":false,"zero":false},"axis":null},"x2":{"field":"t1"},
  "y":{"field":"i","type":"quantitative","scale":{"domain":[-50.59,33.73],"nice":false,"zero":false},"axis":null}}},
{"data":{"values":[{"t":7.72,"i":-34.0,"label":"1 sec"}]},"mark":{"type":"text","fontSize":27,"align":"center","baseline":"alphabetic"},
 "encoding":{"x":{"field":"t","type":"quantitative","scale":{"domain":[-3.7627,9.3898],"nice":false,"zero":false},"axis":null},
  "y":{"field":"i","type":"quantitative","scale":{"domain":[-50.59,33.73],"nice":false,"zero":false},"axis":null},"text":{"field":"label"}}},
{"data":{"values":[{"t":-3.729,"i":20.0,"label":"A"}]},"mark":{"type":"text","fontSize":21,"align":"left","baseline":"alphabetic"},
 "encoding":{"x":{"field":"t","type":"quantitative","scale":{"domain":[-3.7627,9.3898],"nice":false,"zero":false},"axis":null},
  "y":{"field":"i","type":"quantitative","scale":{"domain":[-50.59,33.73],"nice":false,"zero":false},"axis":null},"text":{"field":"label"}}}
]
},
{
"width":776,"height":205,
"layer":[
{"data":{"name":"traceB"},"mark":{"type":"line","color":"black","strokeWidth":1.8},
 "encoding":{"x":{"field":"t","type":"quantitative","scale":{"domain":[-36.97,198.18],"nice":false,"zero":false},"axis":null},
  "y":{"field":"i","type":"quantitative","scale":{"domain":[-61.43,36.19],"nice":false,"zero":false},"axis":null}}},
{"data":{"values":[{"t0":14.85,"t1":34.85,"i":-12.4}]},"mark":{"type":"rule","color":"black","strokeWidth":3,"strokeCap":"butt"},
 "encoding":{"x":{"field":"t0","type":"quantitative","scale":{"domain":[-36.97,198.18],"nice":false,"zero":false},"axis":null},"x2":{"field":"t1"},
  "y":{"field":"i","type":"quantitative","scale":{"domain":[-61.43,36.19],"nice":false,"zero":false},"axis":null}}},
{"data":{"values":[{"t":23.6,"i":-28.1,"label":"20 ms"}]},"mark":{"type":"text","fontSize":28,"align":"center","baseline":"alphabetic"},
 "encoding":{"x":{"field":"t","type":"quantitative","scale":{"domain":[-36.97,198.18],"nice":false,"zero":false},"axis":null},
  "y":{"field":"i","type":"quantitative","scale":{"domain":[-61.43,36.19],"nice":false,"zero":false},"axis":null},"text":{"field":"label"}}},
{"data":{"values":[{"t":-36.67,"i":6.7,"label":"B"}]},"mark":{"type":"text","fontSize":21,"align":"left","baseline":"alphabetic"},
 "encoding":{"x":{"field":"t","type":"quantitative","scale":{"domain":[-36.97,198.18],"nice":false,"zero":false},"axis":null},
  "y":{"field":"i","type":"quantitative","scale":{"domain":[-61.43,36.19],"nice":false,"zero":false},"axis":null},"text":{"field":"label"}}}
]
},
{
"width":776,"height":132,
"layer":[
{"data":{"name":"traceC"},"mark":{"type":"line","color":"black","strokeWidth":2},
 "encoding":{"x":{"field":"t","type":"quantitative","scale":{"domain":[-38.18,196.97],"nice":false,"zero":false},"axis":null},
  "y":{"field":"i","type":"quantitative","scale":{"domain":[-30.95,31.9],"nice":false,"zero":false},"axis":null}}},
{"data":{"values":[{"t0":6.45,"t1":26.45,"i":-16.8}]},"mark":{"type":"rule","color":"black","strokeWidth":3,"strokeCap":"butt"},
 "encoding":{"x":{"field":"t0","type":"quantitative","scale":{"domain":[-38.18,196.97],"nice":false,"zero":false},"axis":null},"x2":{"field":"t1"},
  "y":{"field":"i","type":"quantitative","scale":{"domain":[-30.95,31.9],"nice":false,"zero":false},"axis":null}}},
{"data":{"values":[{"t":14.5,"i":-27.9,"label":"20 ms"}]},"mark":{"type":"text","fontSize":27,"align":"center","baseline":"alphabetic"},
 "encoding":{"x":{"field":"t","type":"quantitative","scale":{"domain":[-38.18,196.97],"nice":false,"zero":false},"axis":null},
  "y":{"field":"i","type":"quantitative","scale":{"domain":[-30.95,31.9],"nice":false,"zero":false},"axis":null},"text":{"field":"label"}}},
{"data":{"values":[{"t":-37.3,"i":-4.8,"label":"C"}]},"mark":{"type":"text","fontSize":21,"align":"left","baseline":"alphabetic"},
 "encoding":{"x":{"field":"t","type":"quantitative","scale":{"domain":[-38.18,196.97],"nice":false,"zero":false},"axis":null},
  "y":{"field":"i","type":"quantitative","scale":{"domain":[-30.95,31.9],"nice":false,"zero":false},"axis":null},"text":{"field":"label"}}}
]
}
]
}
